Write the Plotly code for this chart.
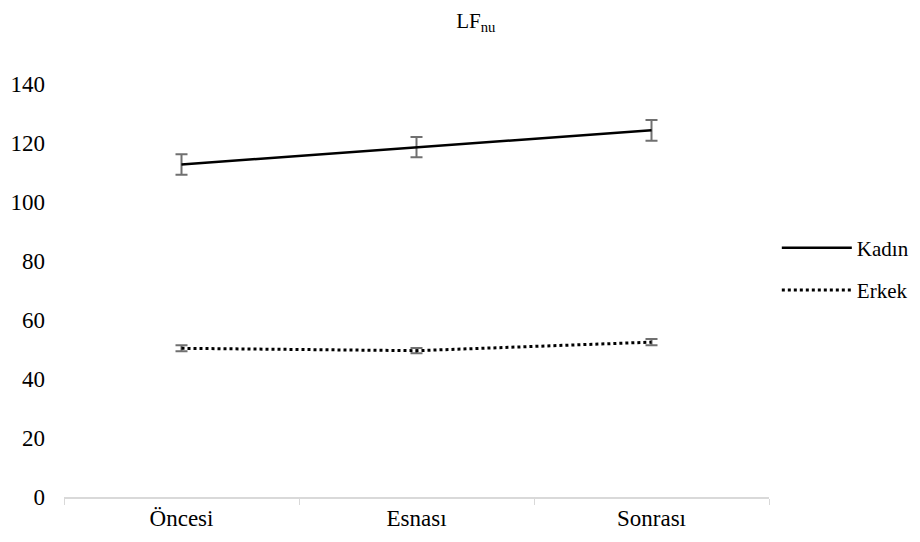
import plotly.graph_objects as go

categories = ["Öncesi", "Esnası", "Sonrası"]
kadin = [112.7, 118.6, 124.3]
kadin_err = [3.5, 3.4, 3.5]
erkek = [50.4, 49.6, 52.5]
erkek_err = [1.0, 0.9, 1.1]
y_ticks = [0, 20, 40, 60, 80, 100, 120, 140]

FONT = "Times New Roman, Liberation Serif, serif"
ERR_COLOR = "#707070"

fig = go.Figure()
fig.add_trace(go.Scatter(
    x=categories, y=kadin, name="Kadın", mode="lines", legendgroup="k",
    line=dict(color="black", width=2.5),
    error_y=dict(type="data", array=kadin_err, color=ERR_COLOR, thickness=2, width=6),
))
fig.add_trace(go.Scatter(
    x=categories, y=erkek, name="Erkek", mode="lines", legendgroup="e",
    line=dict(color="black", width=3, dash="dot"),
    error_y=dict(type="data", array=erkek_err, color=ERR_COLOR, thickness=2, width=6),
))

fig.update_layout(
    width=912, height=534,
    margin=dict(l=56, r=151, t=76, b=45, autoexpand=False),
    paper_bgcolor="white", plot_bgcolor="white",
    font=dict(family=FONT, size=22, color="black"),
    title=dict(text="LF<sub>nu</sub>", x=0.513, xref="container", xanchor="center",
               y=0.977, yref="container", yanchor="middle",
               font=dict(family=FONT, size=21, color="black")),
    showlegend=True,
    legend=dict(x=0.843, xanchor="left", xref="container", y=0.511, yanchor="middle",
                yref="container",
                font=dict(family=FONT, size=21, color="black"),
                itemwidth=70, tracegroupgap=12, bgcolor="rgba(0,0,0,0)"),
)
fig.update_xaxes(
    range=[-0.5, 2.5], automargin=False,
    showgrid=False, showline=True, linecolor="#d9d9d9", linewidth=1.5,
    ticks="outside", tickson="boundaries", tickcolor="#d9d9d9", ticklen=6,
    tickfont=dict(family=FONT, size=23, color="black"), zeroline=False,
)
fig.update_yaxes(
    range=[0, 140], tickvals=y_ticks, automargin=False,
    showgrid=False, showline=False, zeroline=False,
    ticklabelstandoff=18, tickfont=dict(family=FONT, size=23, color="black"),
)

fig.write_html("out.html")
